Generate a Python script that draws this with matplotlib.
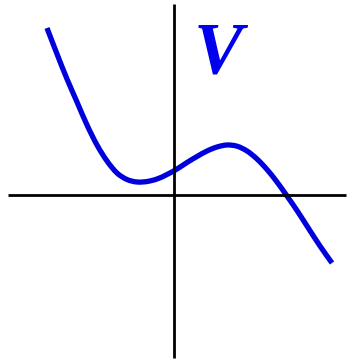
import matplotlib
matplotlib.use("Agg")
import matplotlib.pyplot as plt
from matplotlib.path import Path
from matplotlib.patches import PathPatch

# curve points (origin at axes crossing, 1 unit = 1 px)
curve_x = [-127, -117, -107, -97, -87, -77, -67, -57, -47, -37, -27, -17, -7, 3, 13, 23, 33, 43, 53,
           63, 73, 83, 93, 103, 113, 123, 133, 146, 158]
curve_y = [167, 141, 116, 93, 70, 50, 34, 22, 15.5, 13, 13.5, 16, 20.5, 26, 32.5, 38.5, 44, 48, 50,
           48.8, 44, 36, 25.5, 13, -1, -15.5, -31, -51, -68]
label_text = "V"

fig = plt.figure(figsize=(3.5, 3.62), dpi=100)
ax = fig.add_axes([0, 0, 1, 1])
ax.set_xlim(-174, 176)
ax.set_ylim(-167, 195)
ax.axis("off")

ax.plot([-166, 172], [0, 0], color="black", lw=2.0, solid_capstyle="butt")
ax.plot([0, 0], [-163, 191], color="black", lw=2.0, solid_capstyle="butt")

# smooth path through the read points (Catmull-Rom as cubic Bezier segments)
pts = list(zip(curve_x, curve_y))
verts = [pts[0]]
codes = [Path.MOVETO]
n = len(pts)
for i in range(n - 1):
    p0 = pts[i - 1] if i > 0 else pts[i]
    p1 = pts[i]
    p2 = pts[i + 1]
    p3 = pts[i + 2] if i + 2 < n else pts[i + 1]
    c1 = (p1[0] + (p2[0] - p0[0]) / 6, p1[1] + (p2[1] - p0[1]) / 6)
    c2 = (p2[0] - (p3[0] - p1[0]) / 6, p2[1] - (p3[1] - p1[1]) / 6)
    verts += [c1, c2, p2]
    codes += [Path.CURVE4] * 3
ax.add_patch(PathPatch(Path(verts, codes), facecolor="none", edgecolor="#0000DD", lw=3.8, capstyle="butt"))

ax.text(44, 139, label_text, color="#0000EE", fontsize=53, fontweight="bold", fontstyle="italic",
        family="Liberation Serif", ha="center", va="center")

fig.savefig("out.png", dpi=100)
